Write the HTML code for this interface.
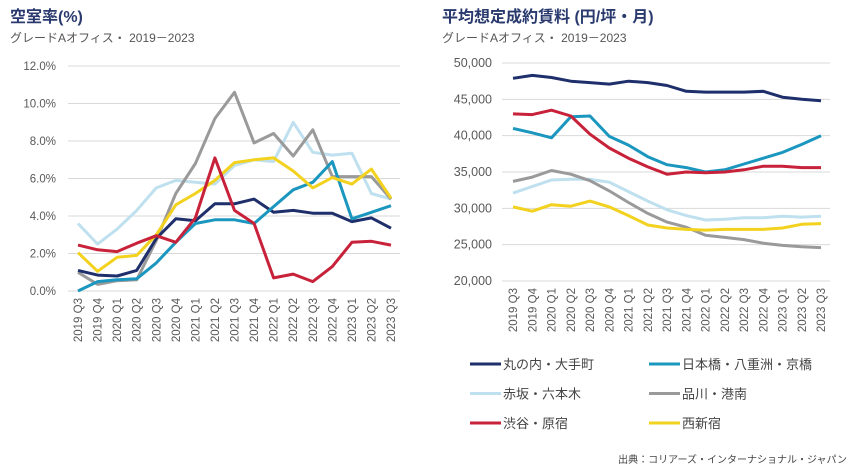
<!DOCTYPE html>
<html><head><meta charset="utf-8">
<style>
body{margin:0;background:#fff;width:855px;height:475px;overflow:hidden;font-family:"Liberation Sans","Noto Sans CJK JP",sans-serif;}
svg{position:absolute;left:0;top:0}
</style></head>
<body>
<svg id="c" width="855" height="475">
<text x="10" y="22" font-size="16" font-weight="bold" fill="#2a3a6e">空室率(%)</text>
<text x="10" y="42" font-size="12" fill="#555">グレードAオフィス・ 2019－2023</text>
<text x="442" y="22" font-size="16" font-weight="bold" fill="#2a3a6e">平均想定成約賃料 (円/坪・月)</text>
<text x="442" y="42" font-size="12" fill="#555">グレードAオフィス・ 2019－2023</text>
<text x="847" y="463" font-size="10" fill="#444" text-anchor="end">出典：コリアーズ・インターナショナル・ジャパン</text>
</svg>
<script>
const categories=["2019 Q3","2019 Q4","2020 Q1","2020 Q2","2020 Q3","2020 Q4","2021 Q1","2021 Q2","2021 Q3","2021 Q4","2022 Q1","2022 Q2","2022 Q3","2022 Q4","2023 Q1","2023 Q2","2023 Q3"];
const seriesNames=["丸の内・大手町","日本橋・八重洲・京橋","赤坂・六本木","品川・港南","渋谷・原宿","西新宿"];
const seriesColors=["#1f2f6b","#1b97bf","#bfe0ee","#9a9a9a","#c8213a","#f2d21e"];
const vacMarunouchi=[1.1,0.85,0.8,1.1,2.8,3.85,3.75,4.65,4.65,4.9,4.2,4.3,4.15,4.15,3.7,3.9,3.35];
const vacNihonbashi=[0,0.5,0.6,0.65,1.5,2.6,3.6,3.8,3.8,3.6,4.5,5.4,5.8,6.9,3.85,4.2,4.55];
const vacAkasaka=[3.6,2.5,3.3,4.3,5.5,5.9,5.8,5.7,6.7,7.0,6.9,9.0,7.4,7.25,7.35,5.2,4.9];
const vacShinagawa=[1.0,0.35,0.55,0.6,2.7,5.2,6.8,9.2,10.6,7.9,8.4,7.2,8.6,6.1,6.1,6.1,4.9];
const vacShibuya=[2.45,2.2,2.1,2.55,2.95,2.6,3.9,7.1,4.3,3.6,0.7,0.9,0.5,1.3,2.6,2.65,2.45];
const vacShinjuku=[2.05,1.05,1.8,1.9,3.0,4.6,5.2,5.9,6.85,7.0,7.1,6.4,5.5,6.05,5.7,6.5,4.95];
const rentMarunouchi=[47900,48300,48000,47500,47300,47100,47500,47300,46900,46100,46000,46000,46000,46100,45300,45000,44800];
const rentNihonbashi=[41000,40400,39700,42600,42700,39900,38700,37100,36000,35600,35000,35300,36100,36900,37700,38800,40000];
const rentAkasaka=[32100,33000,33900,34000,34000,33600,32300,31000,29800,29000,28400,28500,28700,28700,28900,28800,28900];
const rentShinagawa=[33700,34300,35200,34700,33800,32400,30800,29300,28100,27400,26300,26000,25700,25200,24900,24700,24600];
const rentShibuya=[43000,42900,43500,42700,40200,38300,36900,35700,34700,35000,34900,35000,35300,35800,35800,35600,35600];
const rentShinjuku=[30200,29600,30500,30300,31000,30200,29000,27700,27300,27100,27000,27100,27100,27100,27300,27800,27900];
const vacTicks=[0,2,4,6,8,10,12];
const vacTickLabels=["0.0%","2.0%","4.0%","6.0%","8.0%","10.0%","12.0%"];
const rentTicks=[20000,25000,30000,35000,40000,45000,50000];
const rentTickLabels=["20,000","25,000","30,000","35,000","40,000","45,000","50,000"];

const NS="http://www.w3.org/2000/svg";
const svg=document.getElementById('c');
function mk(tag,attrs,parent){const e=document.createElementNS(NS,tag);for(const k in attrs)e.setAttribute(k,attrs[k]);(parent||svg).appendChild(e);return e;}

function drawChart(cfg){
  const g=mk('g',{});
  
  
  const xs=i=>cfg.x0+i*(cfg.x1-cfg.x0)/(categories.length-1);
  const ys=v=>cfg.yb+(v-cfg.vmin)/(cfg.vmax-cfg.vmin)*(cfg.yt-cfg.yb);
  cfg.ticks.forEach((t,i)=>{
    const l=mk('line',{x1:cfg.gl,x2:cfg.gr,y1:ys(t),y2:ys(t),stroke:'#d9d9d9','stroke-width':1},g);
    
    
    const tx=mk('text',{x:cfg.lx,y:ys(t)+4,'font-size':cfg.tfs,fill:'#595959','text-anchor':'end'},g);
    tx.textContent=cfg.tickLabels[i];
    
    
  });
  categories.forEach((c,i)=>{
    const x=xs(i);
    const tx=mk('text',{x:0,y:0,'font-size':11.5,fill:'#595959','text-anchor':'end',transform:`translate(${x+4},${cfg.yb+7}) rotate(-90)`},g);
    tx.textContent=c;
    
    
  });
  const order=[2,3,0,1,5,4];
  order.forEach(k=>{
    const s=cfg.series[k];
    const pts=s.map((v,i)=>xs(i).toFixed(1)+','+ys(v).toFixed(1)).join(' ');
    const p=mk('polyline',{points:pts,fill:'none',stroke:seriesColors[k],'stroke-width':3,'stroke-linejoin':'round'},g);
    
    
  });
}
drawChart({name:'vacancy-chart',x0:78,x1:391,yb:291,yt:66,vmin:0,vmax:12,gl:68,gr:400,lx:56,tfs:11.5,ticks:vacTicks,tickLabels:vacTickLabels,
  series:[vacMarunouchi,vacNihonbashi,vacAkasaka,vacShinagawa,vacShibuya,vacShinjuku]});
drawChart({name:'rent-chart',x0:513,x1:821,yb:281,yt:63,vmin:20000,vmax:50000,gl:502,gr:830,lx:492,tfs:12.5,ticks:rentTicks,tickLabels:rentTickLabels,
  series:[rentMarunouchi,rentNihonbashi,rentAkasaka,rentShinagawa,rentShibuya,rentShinjuku]});

const lg=mk('g',{});


seriesNames.forEach((n,k)=>{
  const col=k%2, row=Math.floor(k/2);
  const x=col?649:470, y=364+row*29.5;
  const l=mk('line',{x1:x,x2:x+31,y1:y,y2:y,stroke:seriesColors[k],'stroke-width':3},lg);
  
  
  const t=mk('text',{x:x+33,y:y+5,'font-size':13,fill:'#444'},lg);
  t.textContent=n;
  
  
});
</script>
</body></html>
